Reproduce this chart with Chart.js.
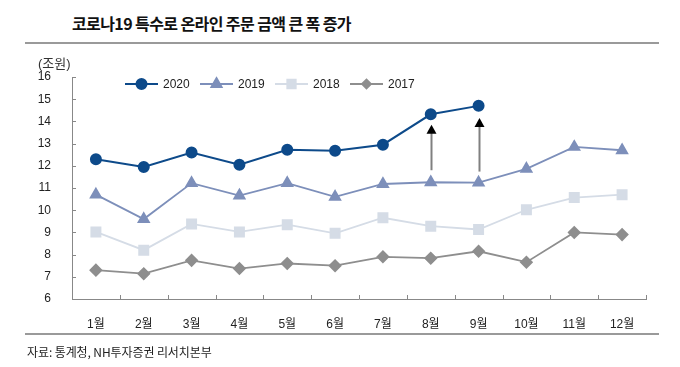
<!DOCTYPE html>
<html>
<head>
<meta charset="utf-8">
<script src="https://cdn.jsdelivr.net/npm/chart.js@4"></script>
<style>
  html, body { margin: 0; padding: 0; background: #fff; }
  #wrap { position: relative; width: 680px; height: 367px; overflow: hidden; }
  #title {
    position: absolute; left: 72px; top: 11px; letter-spacing: -0.6px;
    font: bold 16px "Noto Sans CJK KR", sans-serif; color: #111; white-space: nowrap;
  }
  .rule { position: absolute; left: 25px; width: 634px; height: 2px; background: #9a9a9a; }
  #unit {
    position: absolute; left: 38px; top: 53px;
    font: 13px "Liberation Sans", "Noto Sans CJK KR", sans-serif; color: #333;
  }
  #source {
    position: absolute; left: 27px; top: 343px;
    font: 12px "Noto Sans CJK KR", sans-serif; color: #222; letter-spacing: -0.1px; white-space: nowrap;
  }
  canvas { position: absolute; left: 0; top: 0; }
</style>
</head>
<body>
<div id="wrap">
  <div id="title">코로나19 특수로 온라인 주문 금액 큰 폭 증가</div>
  <div class="rule" style="top:42px"></div>
  <canvas id="chart" width="680" height="367"></canvas>
  <div id="unit">(조원)</div>
  <div class="rule" style="top:333px"></div>
  <div id="source">자료: 통계청, NH투자증권 리서치본부</div>
</div>
<script>
const months = ["1월", "2월", "3월", "4월", "5월", "6월", "7월", "8월", "9월", "10월", "11월", "12월"];
const sales2020 = [12.3, 11.95, 12.6, 12.05, 12.72, 12.68, 12.95, 14.32, 14.7, null, null, null];
const sales2019 = [10.7, 9.6, 11.22, 10.66, 11.22, 10.6, 11.18, 11.26, 11.24, 11.86, 12.85, 12.7];
const sales2018 = [9.02, 8.2, 9.38, 9.02, 9.35, 8.96, 9.66, 9.28, 9.13, 10.02, 10.57, 10.7];
const sales2017 = [7.3, 7.14, 7.74, 7.37, 7.6, 7.5, 7.9, 7.84, 8.15, 7.66, 9.0, 8.9];
const yTicks = [6, 7, 8, 9, 10, 11, 12, 13, 14, 15, 16];
// arrows: [month index, from, to]
const arrows = [[7, 11.8, 13.85], [8, 11.74, 14.15]];

const baseFont = '"Liberation Sans", "Noto Sans CJK KR", sans-serif';

// inward tick marks on both axes
const axisTicks = {
  id: "axisTicks",
  afterDraw(chart) {
    const ctx = chart.ctx;
    const y = chart.scales.y;
    const area = chart.chartArea;
    ctx.save();
    ctx.strokeStyle = "#888";
    ctx.lineWidth = 1;
    ctx.beginPath();
    yTicks.forEach(v => {
      const py = Math.round(y.getPixelForValue(v)) + 0.5;
      ctx.moveTo(area.left, py);
      ctx.lineTo(area.left + 4, py);
    });
    const step = (area.right - area.left) / months.length;
    for (let i = 0; i <= months.length; i++) {
      const px = Math.round(area.left + i * step) + 0.5;
      ctx.moveTo(px, area.bottom);
      ctx.lineTo(px, area.bottom - 4);
    }
    ctx.stroke();
    ctx.restore();
  }
};

const arrowPlugin = {
  id: "arrowPlugin",
  afterDatasetsDraw(chart) {
    const ctx = chart.ctx;
    const x = chart.scales.x, y = chart.scales.y;
    ctx.save();
    arrows.forEach(a => {
      const px = Math.round(x.getPixelForValue(a[0])) + 0.5;
      const y0 = y.getPixelForValue(a[1]);
      const y1 = y.getPixelForValue(a[2]);
      ctx.strokeStyle = "#808080";
      ctx.lineWidth = 2;
      ctx.beginPath();
      ctx.moveTo(px, y0);
      ctx.lineTo(px, y1 + 6);
      ctx.stroke();
      ctx.fillStyle = "#000";
      ctx.beginPath();
      ctx.moveTo(px, y1);
      ctx.lineTo(px - 5, y1 + 9);
      ctx.lineTo(px + 5, y1 + 9);
      ctx.closePath();
      ctx.fill();
    });
    ctx.restore();
  }
};

// legend with a line through each marker, placed in the plot
const lineLegend = {
  id: "lineLegend",
  afterDraw(chart) {
    const ctx = chart.ctx;
    const startX = [125, 200, 275, 350];
    const ly = 84;
    ctx.save();
    chart.data.datasets.forEach((ds, i) => {
      const x0 = startX[i];
      ctx.strokeStyle = ds.borderColor;
      ctx.lineWidth = ds.borderWidth;
      ctx.beginPath();
      ctx.moveTo(x0, ly);
      ctx.lineTo(x0 + 33, ly);
      ctx.stroke();
      ctx.fillStyle = ds.pointBackgroundColor;
      ctx.strokeStyle = ds.pointBackgroundColor;
      Chart.helpers.drawPoint(ctx, {
        pointStyle: ds.pointStyle,
        radius: ds.legendRadius,
        borderWidth: 1
      }, x0 + 16.5, ly);
      ctx.fillStyle = "#222";
      ctx.font = "12px " + baseFont;
      ctx.textBaseline = "middle";
      ctx.fillText(ds.label, x0 + 38, ly + 1);
    });
    ctx.restore();
  }
};

function series(label, data, color, style, radius, width, legendRadius) {
  return {
    label: label,
    data: data,
    borderColor: color,
    backgroundColor: color,
    pointBackgroundColor: color,
    pointBorderColor: color,
    borderWidth: width,
    pointStyle: style,
    pointRadius: radius,
    pointHoverRadius: radius,
    legendRadius: legendRadius,
    tension: 0,
    spanGaps: false
  };
}

new Chart(document.getElementById("chart"), {
  type: "line",
  data: {
    labels: months,
    datasets: [
      series("2020", sales2020, "#0d4a8a", "circle", 5, 2, 5),
      series("2019", sales2019, "#7d8fba", "triangle", 6, 1.8, 6),
      series("2018", sales2018, "#d5dce6", "rect", 6.5, 1.8, 6),
      series("2017", sales2017, "#8e8e8e", "rectRot", 5.5, 1.8, 4.5)
    ]
  },
  options: {
    responsive: false,
    animation: false,
    events: [],
    layout: { padding: { left: 0, top: 77, right: 34, bottom: 0 } },
    plugins: { legend: { display: false }, tooltip: { enabled: false } },
    scales: {
      x: {
        offset: true,
        grid: { display: false },
        border: { display: true, color: "#888", width: 1 },
        ticks: { color: "#222", font: { family: baseFont, size: 12 }, padding: 10, maxRotation: 0 },
        afterFit(scale) { scale.height = 68; }
      },
      y: {
        min: 6,
        max: 16,
        grid: { display: false },
        border: { display: true, color: "#888", width: 1 },
        ticks: { stepSize: 1, color: "#222", font: { family: baseFont, size: 12 }, padding: 13 },
        afterFit(scale) { scale.width = 72; }
      }
    }
  },
  plugins: [axisTicks, arrowPlugin, lineLegend]
});
</script>
</body>
</html>
